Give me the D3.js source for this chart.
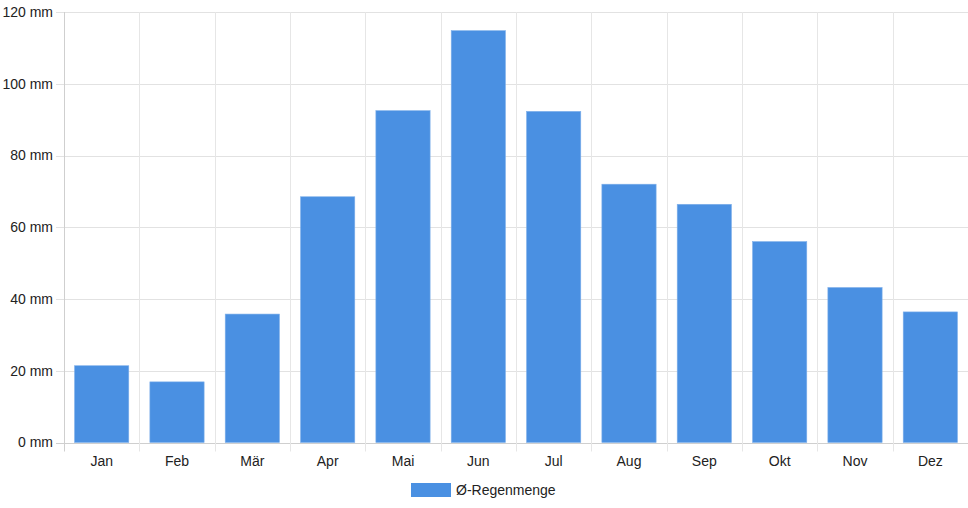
<!DOCTYPE html>
<html lang="de">
<head>
    <meta charset="UTF-8">
    <title>Regenmenge</title>
    <script src="https://d3js.org/d3.v7.min.js"></script>
    <style>
        body { margin: 0; background: #fff; }
        text { font-family: "Liberation Sans", Arial, Helvetica, sans-serif; }
    </style>
</head>
<body>
<div id="chart"></div>
<script>
    var months = ["Jan", "Feb", "Mär", "Apr", "Mai", "Jun", "Jul", "Aug", "Sep", "Okt", "Nov", "Dez"];
    var rain = [21.4, 16.9, 35.8, 68.5, 92.5, 114.8, 92.3, 72.0, 66.4, 56.0, 43.2, 36.4];
    var yTicks = [0, 20, 40, 60, 80, 100, 120];
    var seriesName = "Ø-Regenmenge";

    var w = 968, h = 508;
    // note: "top" is a reserved window property, so plot edges get their own names
    var plotLeft = 64, plotRight = 968, plotTop = 12, plotBottom = 442.5;
    var barColor = "#4a90e2";
    var fontSize = 14;

    var svg = d3.select("#chart")
        .append("svg")
        .attr("width", w)
        .attr("height", h);

    var x = d3.scaleBand()
        .domain(months)
        .range([plotLeft, plotRight]);

    var y = d3.scaleLinear()
        .domain([0, 120])
        .range([plotBottom, plotTop]);

    // horizontal grid
    svg.append("g")
        .selectAll("line")
        .data(yTicks)
        .enter()
        .append("line")
        .attr("x1", plotLeft - 8)
        .attr("x2", plotRight)
        .attr("y1", function (d) { return Math.round(y(d)) + 0.5; })
        .attr("y2", function (d) { return Math.round(y(d)) + 0.5; })
        .attr("stroke", function (d) { return d === 0 ? "#cfcfcf" : "#e2e2e2"; })
        .attr("stroke-width", 1);

    // vertical grid
    var xs = months.map(function (m) { return x(m); }).concat([plotRight]);
    svg.append("g")
        .selectAll("line")
        .data(xs)
        .enter()
        .append("line")
        .attr("x1", function (d) { return Math.round(d) + 0.5; })
        .attr("x2", function (d) { return Math.round(d) + 0.5; })
        .attr("y1", plotTop)
        .attr("y2", plotBottom + 9)
        .attr("stroke", function (d, i) { return i === 0 ? "#cfcfcf" : "#e6e6e6"; })
        .attr("stroke-width", 1);

    // bars
    var bw = x.bandwidth() * 0.72;
    svg.append("g")
        .selectAll("rect")
        .data(rain)
        .enter()
        .append("rect")
        .attr("x", function (d, i) { return x(months[i]) + (x.bandwidth() - bw) / 2; })
        .attr("y", function (d) { return y(d); })
        .attr("width", bw)
        .attr("height", function (d) { return y(0) - y(d); })
        .attr("fill", barColor)
        .attr("stroke", "#7fb0ea")
        .attr("stroke-width", 0.6);

    // y labels
    svg.append("g")
        .selectAll("text")
        .data(yTicks)
        .enter()
        .append("text")
        .attr("x", 53)
        .attr("y", function (d) { return y(d); })
        .attr("dy", "0.35em")
        .attr("text-anchor", "end")
        .attr("font-size", fontSize)
        .attr("fill", "#222")
        .text(function (d) { return d + " mm"; });

    // x labels
    svg.append("g")
        .selectAll("text")
        .data(months)
        .enter()
        .append("text")
        .attr("x", function (d) { return x(d) + x.bandwidth() / 2; })
        .attr("y", 466)
        .attr("text-anchor", "middle")
        .attr("font-size", fontSize)
        .attr("fill", "#222")
        .text(function (d) { return d; });

    // legend
    var lg = svg.append("g");
    lg.append("rect")
        .attr("x", 411)
        .attr("y", 483)
        .attr("width", 40)
        .attr("height", 14)
        .attr("fill", barColor);
    lg.append("text")
        .attr("x", 456)
        .attr("y", 490)
        .attr("dy", "0.35em")
        .attr("font-size", fontSize)
        .attr("fill", "#222")
        .text(seriesName);
</script>
</body>
</html>
